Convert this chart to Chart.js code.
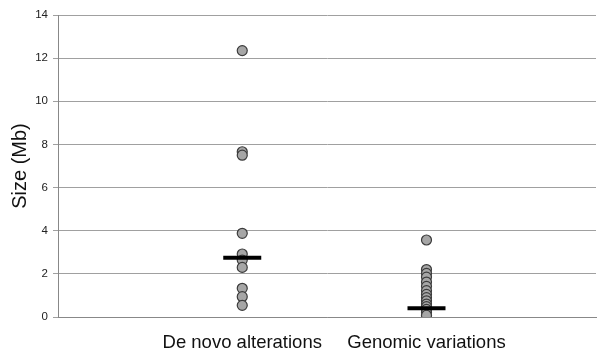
<!DOCTYPE html>
<html>
<head>
<meta charset="utf-8">
<script src="https://cdn.jsdelivr.net/npm/chart.js@4"></script>
<style>
  html, body { margin: 0; padding: 0; background: #fff; }
  #wrap { width: 598px; height: 350px; }
</style>
</head>
<body>
<div id="wrap"><canvas id="c" width="598" height="350"></canvas></div>
<script>
// categories on x (placed at 1 and 2)
const categories = ['De novo alterations', 'Genomic variations'];

// sizes in Mb
const deNovo = [12.35, 7.66, 7.5, 3.88, 2.92, 2.64, 2.3, 1.33, 0.94, 0.54];
const genomic = [3.57, 2.2, 2.02, 1.85, 1.62, 1.42, 1.22, 1.05, 0.9, 0.75, 0.6, 0.48, 0.35, 0.22, 0.08];

// medians drawn as black bars
const medians = [2.75, 0.4];

const yTicks = [0, 2, 4, 6, 8, 10, 12, 14];

const pts = (vals, x) => vals.map(v => ({ x: x, y: v }));

new Chart(document.getElementById('c'), {
  type: 'scatter',
  data: {
    datasets: [
      {
        data: medians.map((v, i) => ({ x: i + 1, y: v })),
        pointStyle: 'line',
        pointRadius: 19,
        pointBorderWidth: 4,
        borderColor: '#000',
        backgroundColor: '#000',
        order: 0
      },
      {
        data: pts(deNovo, 1).concat(pts(genomic, 2)),
        pointRadius: 5,
        pointBorderWidth: 1.2,
        backgroundColor: '#a6a6a6',
        borderColor: '#3c3c3c',
        order: 1
      }
    ]
  },
  options: {
    responsive: false,
    animation: false,
    layout: { autoPadding: false, padding: { top: 15, right: 2, left: 0, bottom: 0 } },
    plugins: { legend: { display: false }, tooltip: { enabled: false } },
    scales: {
      x: {
        type: 'linear',
        min: 0,
        max: 2.92,
        afterBuildTicks: ax => { ax.ticks = [{ value: 1 }, { value: 2 }]; },
        afterFit: ax => { ax.height = 33; ax.paddingLeft = 0; ax.paddingRight = 0; },
        grid: { display: false, drawTicks: true, tickLength: 3 },
        border: { color: '#888' },
        ticks: {
          callback: v => categories[v - 1],
          color: '#111',
          font: { family: 'Liberation Sans, Arial', size: 18.5 },
          padding: 12,
          maxRotation: 0
        }
      },
      y: {
        min: 0,
        max: 14,
        afterBuildTicks: ax => { ax.ticks = yTicks.map(v => ({ value: v })); },
        afterFit: ax => { ax.width = 58; ax.paddingTop = 0; ax.paddingBottom = 0; },
        grid: { color: '#a0a0a0', lineWidth: 1, tickLength: 5 },
        border: { color: '#888' },
        ticks: {
          color: '#222',
          font: { family: 'Liberation Sans, Arial', size: 11.5 },
          padding: 5
        },
        title: {
          display: true,
          text: 'Size (Mb)',
          color: '#111',
          font: { family: 'Liberation Sans, Arial', size: 20 },
          padding: { top: 8, bottom: 0 }
        }
      }
    }
  }
});
</script>
</body>
</html>
